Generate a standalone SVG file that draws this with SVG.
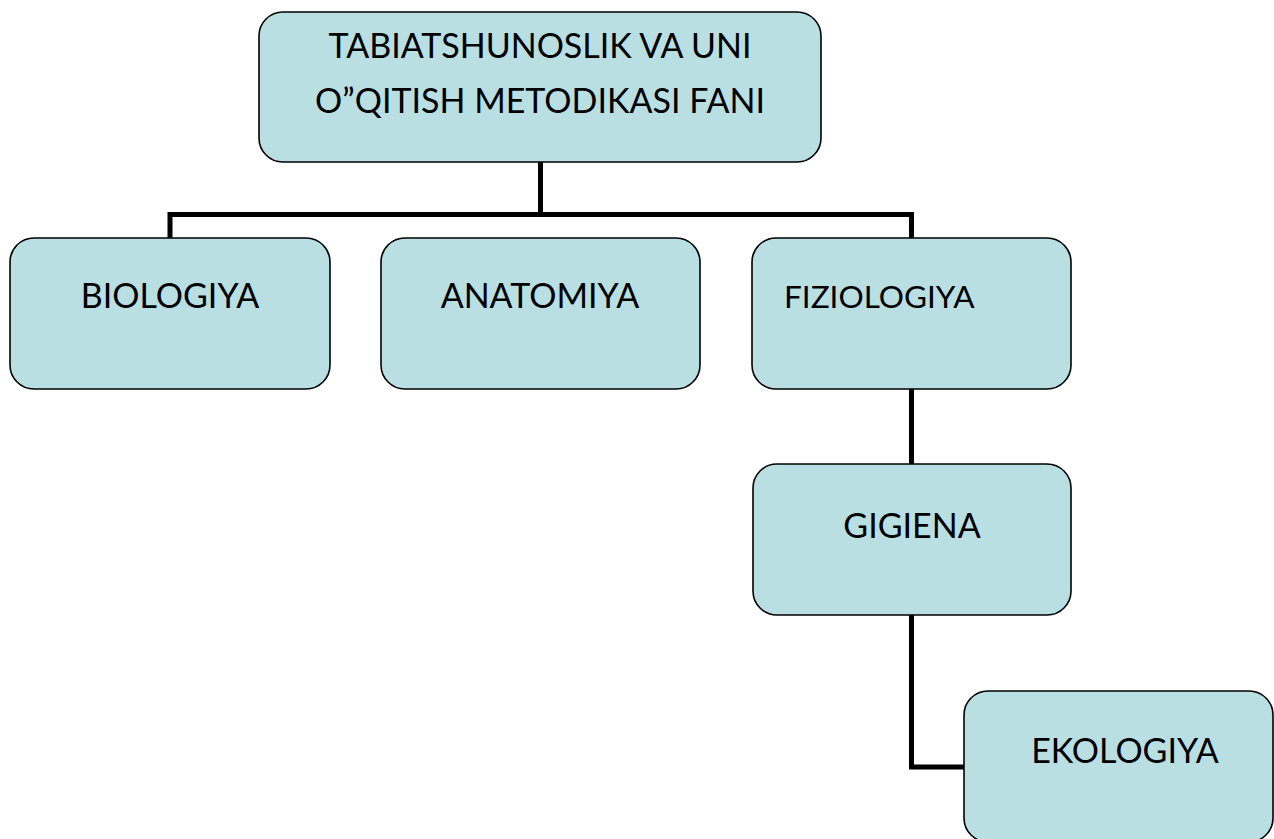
<svg xmlns="http://www.w3.org/2000/svg" width="1274" height="839" viewBox="0 0 1274 839">
<style>
.box{fill:#B9DFE3;stroke:#000;stroke-width:1.6}
.t{font-family:Lato,"Open Sans","Liberation Sans",sans-serif;font-size:34px;fill:#000;text-anchor:middle}
.conn{fill:none;stroke:#000;stroke-width:5}
</style>
<rect width="1274" height="839" fill="#fff"/>
<g id="connectors">
<path class="conn" d="M540.5 162 V214.5 M170 238 V214.5 H911.5 V238"/>
<path class="conn" d="M911.5 389 V464"/>
<path class="conn" d="M911.5 615 V767 H964"/>
</g>
<g id="root">
<rect class="box" x="259" y="12" width="562" height="150" rx="24"/>
<text class="t" x="540" y="58">TABIATSHUNOSLIK VA UNI</text>
<text class="t" x="540" y="113">O”QITISH METODIKASI FANI</text>
</g>
<g id="biologiya">
<rect class="box" x="10" y="238" width="320" height="151" rx="24"/>
<text class="t" x="170" y="308">BIOLOGIYA</text>
</g>
<g id="anatomiya">
<rect class="box" x="381" y="238" width="319" height="151" rx="24"/>
<text class="t" x="540" y="308">ANATOMIYA</text>
</g>
<g id="fiziologiya">
<rect class="box" x="752" y="238" width="319" height="151" rx="24"/>
<text class="t" x="784" y="308" style="text-anchor:start;font-size:31.5px">FIZIOLOGIYA</text>
</g>
<g id="gigiena">
<rect class="box" x="753" y="464" width="318" height="151" rx="24"/>
<text class="t" x="912" y="538">GIGIENA</text>
</g>
<g id="ekologiya">
<rect class="box" x="964" y="691" width="309" height="151" rx="24"/>
<text class="t" x="1125" y="763">EKOLOGIYA</text>
</g>
</svg>
